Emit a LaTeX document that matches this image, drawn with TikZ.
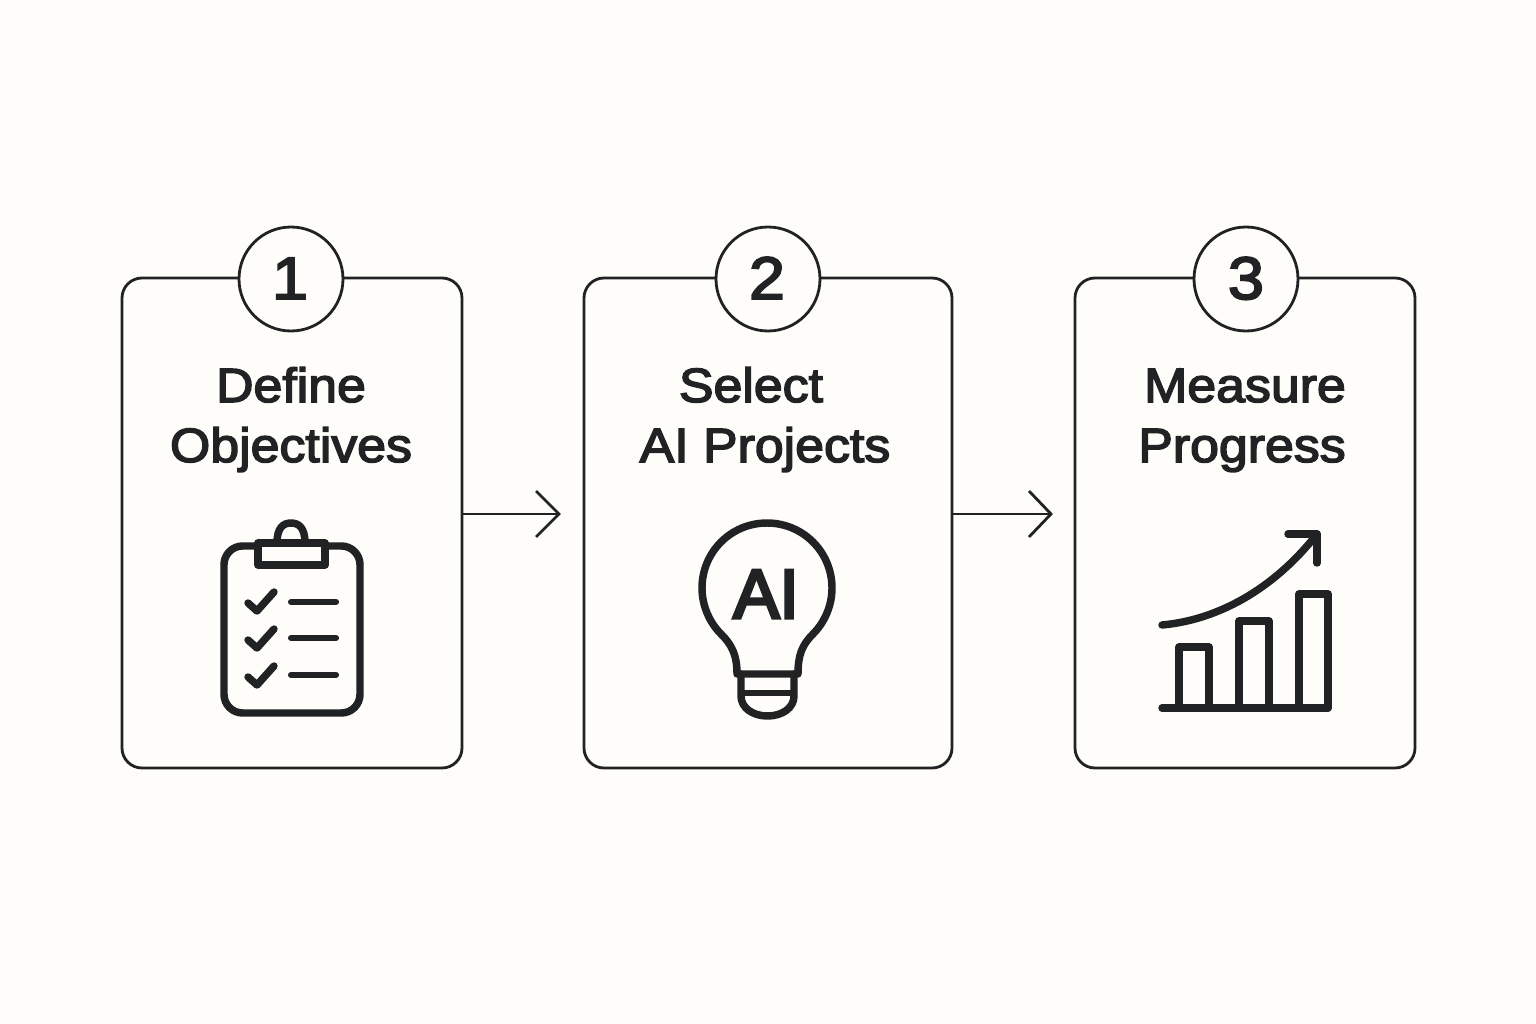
\documentclass[tikz,border=0pt]{standalone}
\usepackage{fontspec}
\setmainfont{Liberation Sans}
\newfontfamily\medfont[FakeBold=3.2,FakeStretch=1.08]{Liberation Sans}
\newfontfamily\aifont[FakeBold=4.5]{Liberation Sans}
\definecolor{ink}{HTML}{202224}
\definecolor{paper}{HTML}{FEFDF9}
\tikzset{
  cardbox/.style={draw=ink,line width=2.1pt,rounded corners=15pt,minimum width=255pt,minimum height=367.5pt,inner sep=0pt,outer sep=0pt},
  badge/.style={draw=ink,fill=paper,line width=2.1pt,circle,minimum size=78pt,inner sep=0pt,outer sep=0pt},
  digit/.style={font=\medfont\fontsize{45pt}{45pt}\selectfont,text=ink,anchor=base,inner sep=0pt},
  heading/.style={font=\medfont\fontsize{36pt}{36pt}\selectfont,text=ink,anchor=base,inner sep=0pt},
  link/.style={draw=ink,line width=2.1pt},
  tipline/.style={draw=ink,line width=2.1pt,line join=miter},
  icon/.style={draw=ink,line width=5.6pt,line cap=round,line join=round},
  iconthin/.style={draw=ink,line width=4.6pt,line cap=round,line join=round},
}
\begin{document}
\begin{tikzpicture}[x=0.75pt,y=-0.75pt]
\useasboundingbox[fill=paper] (0,0) rectangle (1536,1024);

% cards
\node[cardbox] (card1) at (292,523) {};
\node[cardbox,minimum width=276pt] (card2) at (768,523) {};
\node[cardbox] (card3) at (1245,523) {};

% badges
\node[badge] (badge1) at (291,279) {};
\node[badge] (badge2) at (768,279) {};
\node[badge] (badge3) at (1246,279) {};
\node[digit] (n1) at (290,299) {1};
\node[digit] (n2) at (767,299) {2};
\node[digit] (n3) at (1246,299) {3};

% headings
\node[heading] (t1a) at (291,402) {Define};
\node[heading] (t1b) at (291,462) {Objectives};
\node[heading] (t2a) at (751,402) {Select};
\node[heading] (t2b) at (765,462) {AI Projects};
\node[heading] (t3a) at (1245,402) {Measure};
\node[heading] (t3b) at (1242,462) {Progress};

% connectors
\coordinate (tipA) at (559,514);
\coordinate (tipB) at (1051,514);
\draw[link] (card1.east |- tipA) -- (tipA);
\draw[link] (card2.east |- tipB) -- (tipB);
\draw[tipline] (536,491) -- (tipA) -- (536,537);
\draw[tipline] (1029,491) -- (tipB) -- (1029,537);

% clipboard
\draw[icon,rounded corners=14pt] (224,546) rectangle (360,713);
\draw[icon,fill=paper] (277,543) .. controls (277,528) and (283,523) .. (291,523)
  .. controls (299,523) and (305,528) .. (305,543);
\draw[icon,fill=paper] (258,543) rectangle (325,565);
\foreach \yy/\ly in {0/602,37/638,74/675}{
  \draw[icon] (248,603+\yy) -- (257,611+\yy) -- (274,592+\yy);
  \draw[iconthin] (291,\ly) -- (336,\ly);
}

% bulb
\draw[icon] (737,674) .. controls (737,655) and (732,645) .. (721,634)
  .. controls (709,622) and (702,605) .. (702,588)
  .. controls (702,552) and (731,523) .. (767,523)
  .. controls (803,523) and (832,552) .. (832,588)
  .. controls (832,605) and (825,622) .. (813,634)
  .. controls (802,645) and (798,655) .. (798,674) -- cycle;
\draw[icon] (741,674) -- (741,696) .. controls (741,708) and (753,716) .. (767.5,716)
  .. controls (782,716) and (794,708) .. (794,696) -- (794,674);
\draw[iconthin] (741,693) -- (794,693);
\node[font=\aifont\fontsize{52pt}{52pt}\selectfont,text=ink,anchor=base,inner sep=0pt] (ai) at (766,618) {AI};

% chart
\draw[icon] (1162,708) -- (1328,708);
\draw[icon] (1179,708) -- (1179,647) -- (1209,647) -- (1209,708);
\draw[icon] (1239,708) -- (1239,621) -- (1269,621) -- (1269,708);
\draw[icon] (1299,708) -- (1299,594) -- (1328,594) -- (1328,708);
\draw[icon] (1162,625) .. controls (1217,620) and (1273,590) .. (1317,534);
\draw[icon] (1288,534) -- (1317,534) -- (1317,563);
\end{tikzpicture}
\end{document}
